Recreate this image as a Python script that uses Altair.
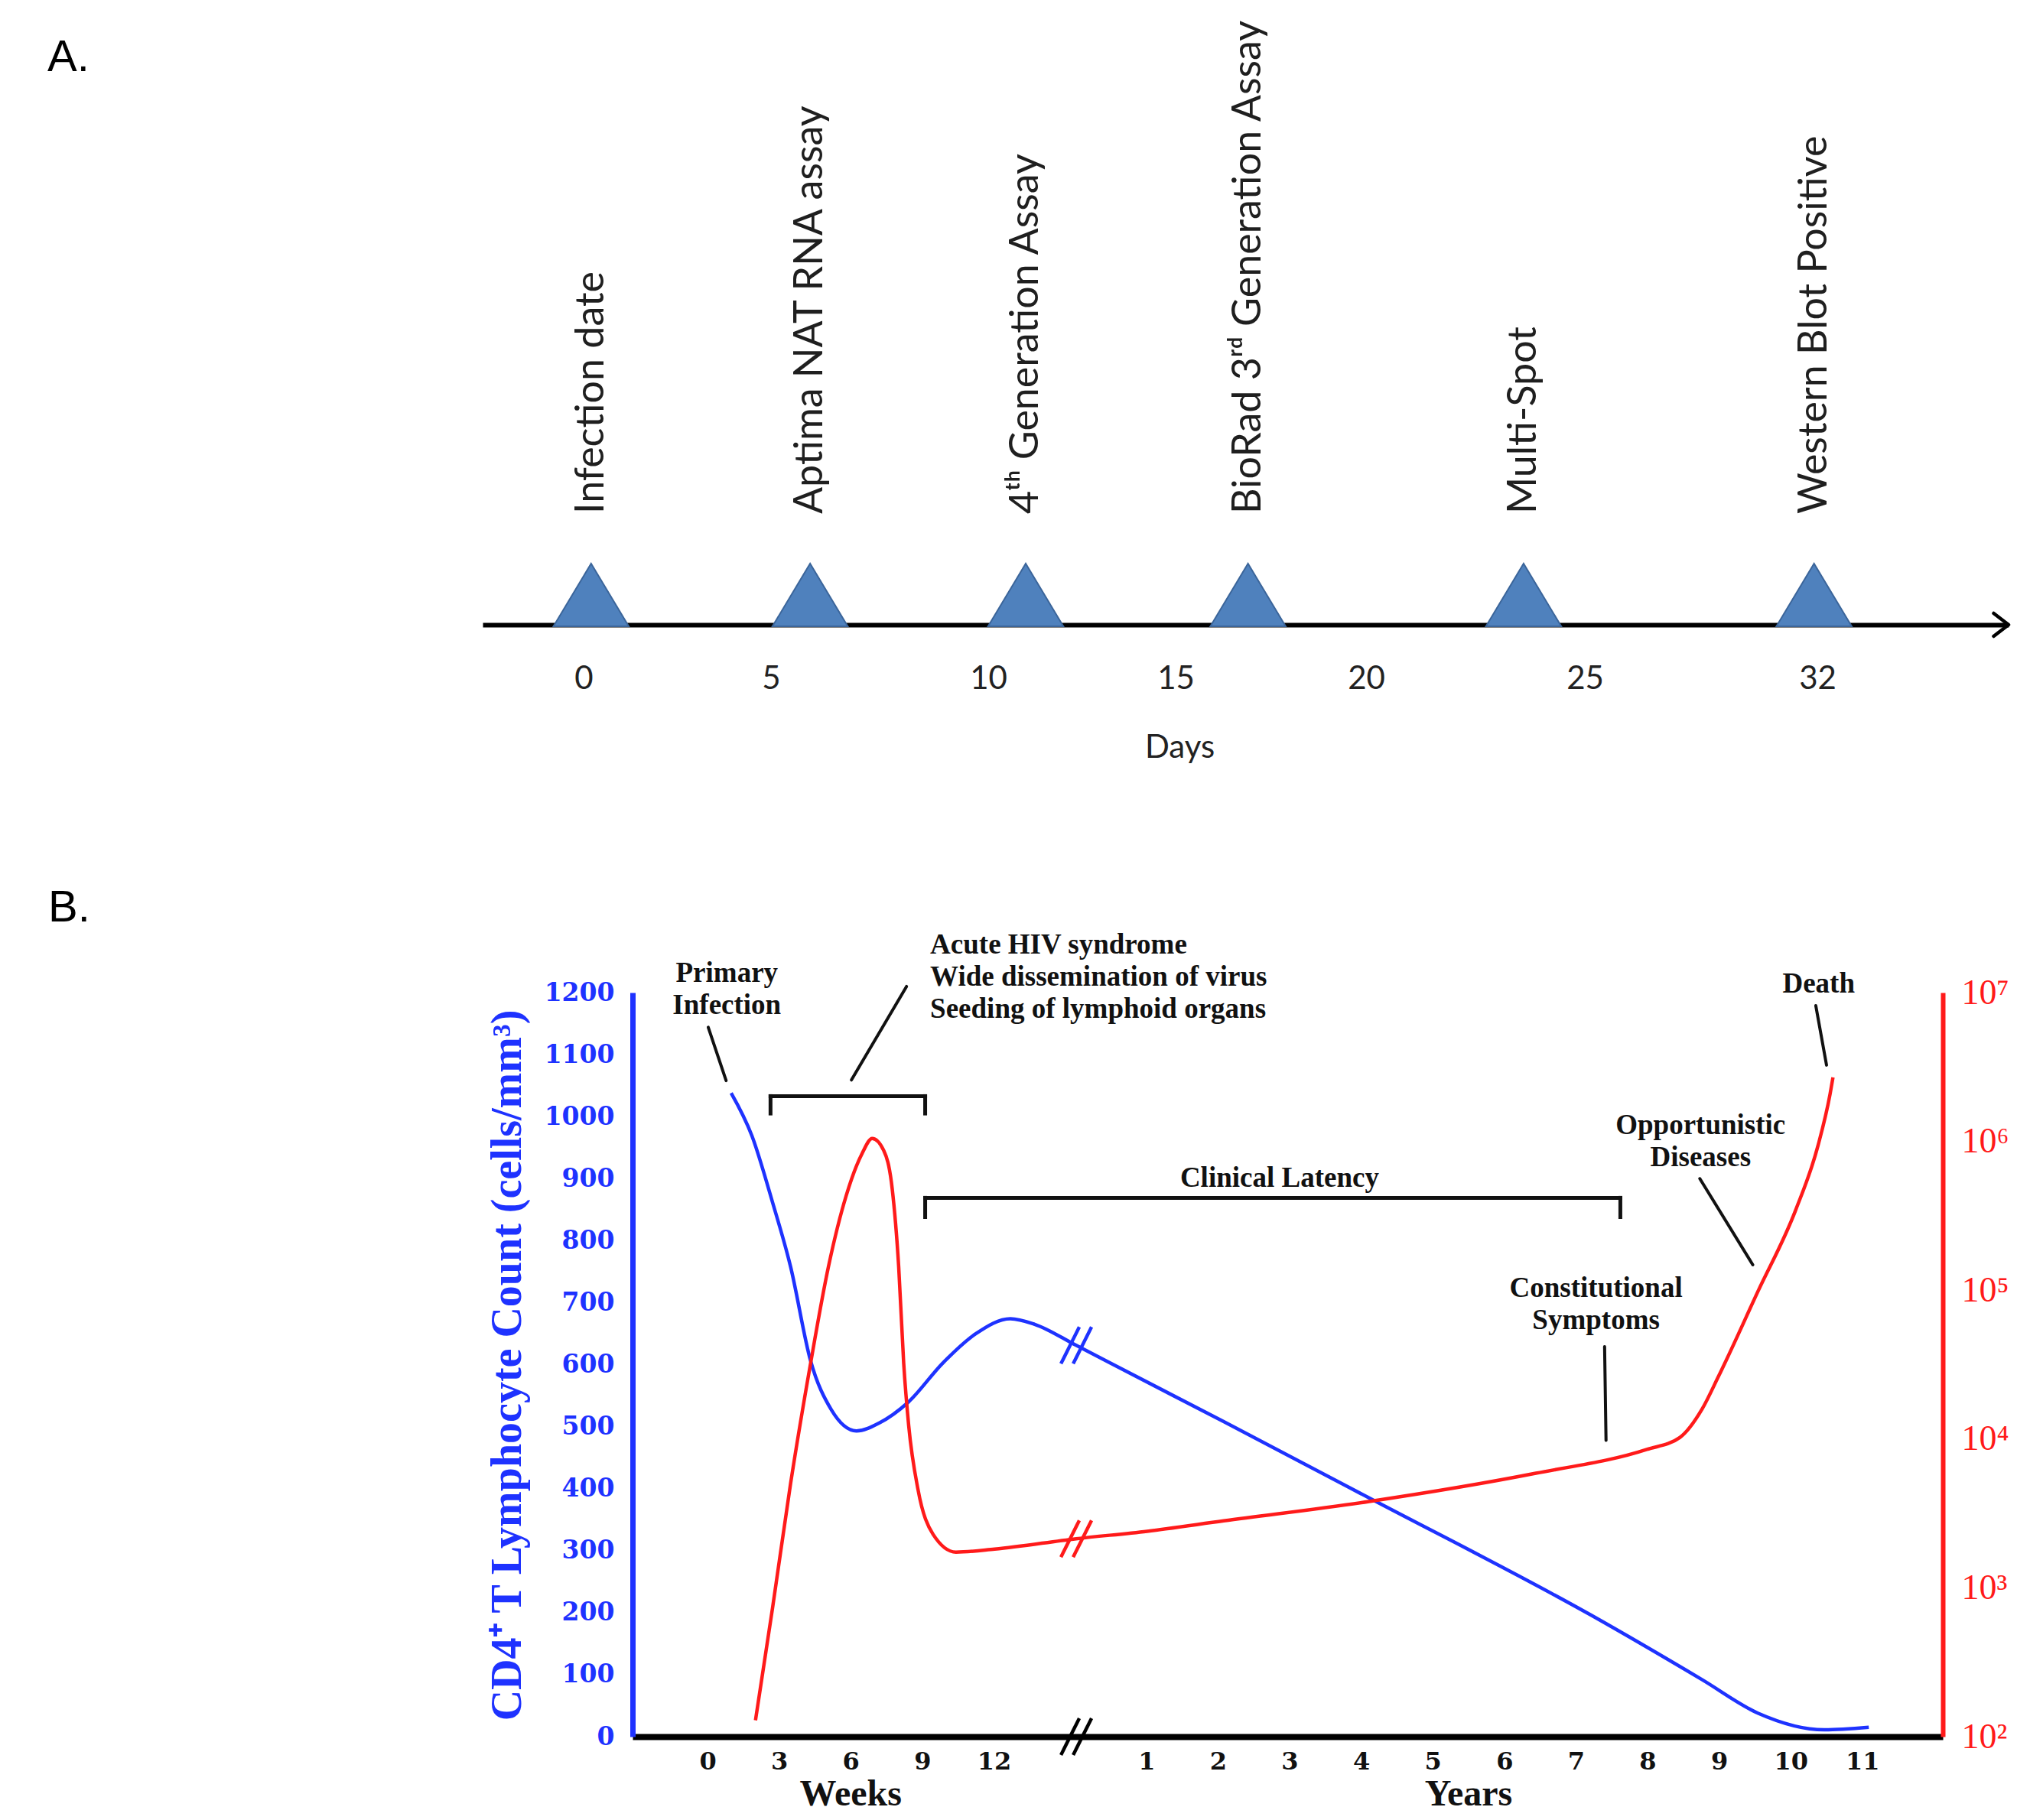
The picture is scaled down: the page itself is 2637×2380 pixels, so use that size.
import altair as alt
import pandas as pd

# ---------------- Panel A : order of assay positivity ----------------
assay_names = ["Infection date", "Aptima NAT RNA assay", "4ᵗʰ Generation Assay",
               "BioRad 3ʳᵈ Generation Assay", "Multi-Spot", "Western Blot Positive"]
assay_days = [0.2, 5.9, 11.0, 16.9, 23.6, 31.9]
day_ticks = [0, 5, 10, 15, 20, 25, 32]
day_axis_span = [-2.69, 37.76]          # start of the timeline and arrow tip (days)

# ---------------- Panel B : natural course of HIV infection ----------------
week_ticks = [0, 3, 6, 9, 12]
year_ticks = [1, 2, 3, 4, 5, 6, 7, 8, 9, 10, 11]
WEEKS_PER_SLOT = 3                      # one axis slot = 3 weeks before the break, 1 year after
YEAR_ZERO_SLOT = 5.13
BREAK_SLOT = 5.15
x_span = [-1.047, 17.254]

cd4_slot = [0.33, 0.62, 0.91, 1.16, 1.44, 1.73, 2.08, 2.40, 2.80, 3.29, 3.75, 4.23, 4.57,
            5.15, 7.21, 9.24, 12.34, 13.89, 14.67, 15.60, 16.22]
cd4_count = [1038, 969, 861, 758, 606, 527, 493, 506, 539, 603, 650, 674, 665,
             631, 508, 385, 196, 92, 38, 11, 15]

vl_slot = [0.67, 0.91, 1.16, 1.44, 1.69, 1.94, 2.16, 2.30, 2.46, 2.58, 2.67, 2.74, 2.81,
           2.94, 3.15, 3.47, 4.01, 5.15, 6.14, 7.21, 9.24, 11.57, 13.12, 13.58, 13.89,
           14.12, 14.67, 15.20, 15.51, 15.68, 15.72]
vl_log10 = [2.11, 2.87, 3.70, 4.51, 5.16, 5.64, 5.92, 6.02, 5.94, 5.68, 5.16, 4.51, 4.09,
            3.66, 3.36, 3.24, 3.26, 3.33, 3.38, 3.45, 3.58, 3.77, 3.93, 4.01, 4.20,
            4.42, 4.99, 5.54, 5.97, 6.32, 6.43]

cd4_ticks = [0, 100, 200, 300, 400, 500, 600, 700, 800, 900, 1000, 1100, 1200]
vl_ticks = [1e2, 1e3, 1e4, 1e5, 1e6, 1e7]

# annotation anchors: (axis slot, CD4 level of the first text line)
center_notes = ["Primary\nInfection", "Clinical Latency", "Constitutional\nSymptoms",
                "Opportunistic\nDiseases", "Death"]
center_note_slot = [0.27, 7.99, 12.41, 13.87, 15.52]
center_note_cd4 = [1231, 900, 723, 985, 1213]
left_notes = ["Acute HIV syndrome\nWide dissemination of virus\nSeeding of lymphoid organs"]
left_note_slot = [3.11]
left_note_cd4 = [1276]

bracket_from_slot = [0.88, 0.88, 3.04, 3.04, 3.04, 12.75]
bracket_from_cd4 = [1033, 1033, 1033, 869, 869, 869]
bracket_to_slot = [3.04, 0.88, 3.04, 12.75, 3.04, 12.75]
bracket_to_cd4 = [1033, 1005, 1005, 869, 838, 838]

pointer_from_slot = [0.01, 2.78, 12.53, 13.86, 15.48]
pointer_from_cd4 = [1144, 1210, 629, 900, 1179]
pointer_to_slot = [0.26, 2.01, 12.55, 14.60, 15.63]
pointer_to_cd4 = [1058, 1059, 478, 761, 1083]

axis_titles = ["Weeks", "Years"]
axis_title_slot = [6 / WEEKS_PER_SLOT, YEAR_ZERO_SLOT + 5.5]

# ---------------- layout / style ----------------
W, H = 2621, 2364
A_AXIS_Y = 809
# drawn position of the timeline ticks (the schematic is not evenly spaced)
A_RANGE = [623, 755, 1000, 1284, 1529, 1778, 2064, 2368, 2618]
B_LEFT, B_RIGHT, B_BOTTOM, B_TOP = 819, 2532, 2263, 1290
BLUE = "#1e32ff"
RED = "#ff1a1a"
SERIF = "Liberation Serif"

# ---------------- Panel A ----------------
df_a = pd.DataFrame({"name": assay_names, "day": assay_days})
df_arrow = pd.DataFrame({"day": [day_axis_span[1]]})

X_A = alt.X("day:Q",
            scale=alt.Scale(domain=[day_axis_span[0]] + day_ticks + [day_axis_span[1]],
                            range=A_RANGE, nice=False, zero=False),
            axis=alt.Axis(orient="bottom", offset=A_AXIS_Y - H, values=day_ticks, format="d",
                          ticks=False, tickSize=0, grid=False, domainColor="black", domainWidth=6,
                          labelFont="Lato", labelFontSize=42, labelColor="#222", labelPadding=70,
                          labelBaseline="middle", labelOverlap=False, labelFlush=False, labelBound=False,
                          title="Days", titleFont="Lato", titleFontSize=42, titleFontWeight="normal",
                          titleColor="#222", titleX=1534, titleY=160, titleAlign="center",
                          titleBaseline="middle"))

triangles = alt.Chart(df_a).mark_point(
    shape="M-0.6,0L0,-1L0.6,0Z", size=26896, filled=True, color="#4f81bd", fill="#4f81bd",
    stroke="#3b659a", strokeWidth=2, opacity=1
).encode(x=X_A, y=alt.value(A_AXIS_Y + 2))

arrow = alt.Chart(df_arrow).mark_point(
    shape="M-1.3,-1L0,0L-1.3,1", size=900, filled=False, color="black", strokeWidth=4.5,
    opacity=1, strokeCap="round", strokeJoin="round"
).encode(x=X_A, y=alt.value(A_AXIS_Y))

assay_text = alt.Chart(df_a).mark_text(
    angle=270, align="left", baseline="middle", font="Lato", fontSize=52, color="#1f1f1f"
).encode(x=X_A, y=alt.value(664), text="name:N")

panel_a = alt.layer(triangles, arrow, assay_text)

# ---------------- Panel B ----------------
slot_ticks = [w / WEEKS_PER_SLOT for w in week_ticks] + [YEAR_ZERO_SLOT + y for y in year_ticks]
x_label_expr = (f"datum.value < {BREAK_SLOT} ? format(datum.value * {WEEKS_PER_SLOT}, 'd') "
                f": format(datum.value - {YEAR_ZERO_SLOT}, '.0f')")

X_B = alt.X("pos:Q",
            scale=alt.Scale(domain=x_span, range=[B_LEFT, B_RIGHT], nice=False, zero=False),
            axis=alt.Axis(orient="bottom", offset=B_BOTTOM - H, values=slot_ticks, labelExpr=x_label_expr,
                          ticks=False, tickSize=0, grid=False, domainColor="black", domainWidth=8,
                          labelFont="DejaVu Serif", labelFontWeight="bold", labelFontSize=32,
                          labelColor="#111", labelPadding=32, labelBaseline="middle",
                          labelOverlap=False, labelFlush=False, labelBound=False, title=None))

Y_B = alt.Y("v:Q",
            scale=alt.Scale(domain=[0, 1200], range=[B_BOTTOM, B_TOP], nice=False, zero=False),
            axis=alt.Axis(orient="left", offset=-B_LEFT, values=cd4_ticks, format="d",
                          ticks=False, tickSize=0,
                          grid=False, domainColor=BLUE, domainWidth=7,
                          labelFont="DejaVu Serif", labelFontWeight="bold", labelFontSize=33,
                          labelColor=BLUE, labelPadding=24, labelOverlap=False, labelFlush=False,
                          labelBound=False,
                          title="CD4⁺ T Lymphocyte Count (cells/mm³)", titleFont=SERIF,
                          titleFontSize=56, titleFontWeight="bold", titleColor=BLUE, titleAngle=270,
                          titleX=-164, titleY=1777, titleAlign="center", titleBaseline="middle"))

sup = "['⁰','¹','²','³','⁴','⁵','⁶','⁷','⁸','⁹']"
Y_R = alt.Y("vl:Q",
            scale=alt.Scale(type="log", domain=[1e2, 1e7], range=[B_BOTTOM, B_TOP], nice=False),
            axis=alt.Axis(orient="right", offset=B_RIGHT - W, values=vl_ticks,
                          labelExpr=f"'10' + {sup}[round(log(datum.value) / LN10)]",
                          ticks=False, tickSize=0, grid=False, domainColor=RED, domainWidth=6,
                          labelFont=SERIF, labelFontSize=46, labelColor=RED, labelPadding=24,
                          labelOverlap=False, labelFlush=False, labelBound=False, title=None))

df_cd4 = pd.DataFrame({"pos": cd4_slot, "v": cd4_count})
df_vl = pd.DataFrame({"pos": vl_slot, "vl": [10 ** x for x in vl_log10]})

cd4_line = alt.Chart(df_cd4).mark_line(color=BLUE, strokeWidth=4.5, interpolate="monotone").encode(x=X_B, y=Y_B)
vl_line = alt.Chart(df_vl).mark_line(color=RED, strokeWidth=4.5, interpolate="monotone").encode(x=X_B, y=Y_R)

df_br = pd.DataFrame({"pos": bracket_from_slot, "v": bracket_from_cd4,
                      "pos2": bracket_to_slot, "v2": bracket_to_cd4})
brackets = alt.Chart(df_br).mark_rule(color="#111", strokeWidth=5, strokeCap="square").encode(
    x=X_B, y=Y_B, x2="pos2:Q", y2="v2:Q")

df_pt = pd.DataFrame({"pos": pointer_from_slot, "v": pointer_from_cd4,
                      "pos2": pointer_to_slot, "v2": pointer_to_cd4})
pointers = alt.Chart(df_pt).mark_rule(color="#111", strokeWidth=4, strokeCap="round").encode(
    x=X_B, y=Y_B, x2="pos2:Q", y2="v2:Q")

df_cn = pd.DataFrame({"text": center_notes, "pos": center_note_slot, "v": center_note_cd4})
notes_c = alt.Chart(df_cn).mark_text(
    align="center", baseline="middle", font=SERIF, fontWeight="bold", fontSize=37,
    lineHeight=42, lineBreak="\n", color="#111"
).encode(x=X_B, y=Y_B, text="text:N")

df_ln = pd.DataFrame({"text": left_notes, "pos": left_note_slot, "v": left_note_cd4})
notes_l = alt.Chart(df_ln).mark_text(
    align="left", baseline="middle", font=SERIF, fontWeight="bold", fontSize=37,
    lineHeight=42, lineBreak="\n", color="#111"
).encode(x=X_B, y=Y_B, text="text:N")

df_xt = pd.DataFrame({"text": axis_titles, "pos": axis_title_slot})
x_titles = alt.Chart(df_xt).mark_text(
    align="center", baseline="middle", font=SERIF, fontWeight="bold", fontSize=48, color="#111"
).encode(x=X_B, y=alt.value(B_BOTTOM + 76), text="text:N")


def slashes(df, yfield, yenc, color):
    out = []
    for dx in (-8, 8):
        out.append(alt.Chart(df).mark_rule(
            color=color, strokeWidth=4.5, xOffset=dx - 12, x2Offset=dx + 12, yOffset=24, y2Offset=-24
        ).encode(x=X_B, x2="pos:Q", y=yenc, y2=alt.Y2(yfield)))
    return out


df_break_cd4 = pd.DataFrame({"pos": [BREAK_SLOT], "v": [631]})
df_break_axis = pd.DataFrame({"pos": [BREAK_SLOT], "v": [0]})
df_break_vl = pd.DataFrame({"pos": [BREAK_SLOT], "vl": [10 ** 3.33]})

blue_group = alt.layer(
    cd4_line, brackets, pointers, notes_c, notes_l, x_titles,
    *slashes(df_break_cd4, "v", Y_B, BLUE), *slashes(df_break_axis, "v", Y_B, "black"))
red_group = alt.layer(vl_line, *slashes(df_break_vl, "vl", Y_R, RED))
panel_b = alt.layer(blue_group, red_group).resolve_scale(y="independent")

label_a = alt.Chart(pd.DataFrame({"t": ["A."]})).mark_text(
    align="left", baseline="alphabetic", font="Liberation Sans", fontSize=58, color="black"
).encode(x=alt.value(54), y=alt.value(85), text="t:N")
label_b = alt.Chart(pd.DataFrame({"t": ["B."]})).mark_text(
    align="left", baseline="alphabetic", font="Liberation Sans", fontSize=58, color="black"
).encode(x=alt.value(55), y=alt.value(1197), text="t:N")

chart = alt.layer(panel_a, panel_b, label_a, label_b).resolve_scale(
    x="independent", y="independent"
).properties(
    width=W, height=H, padding=0, autosize=alt.AutoSizeParams(type="none")
).configure_view(stroke=None)

chart.save("out.html", embed_options={"renderer": "svg", "actions": False})
